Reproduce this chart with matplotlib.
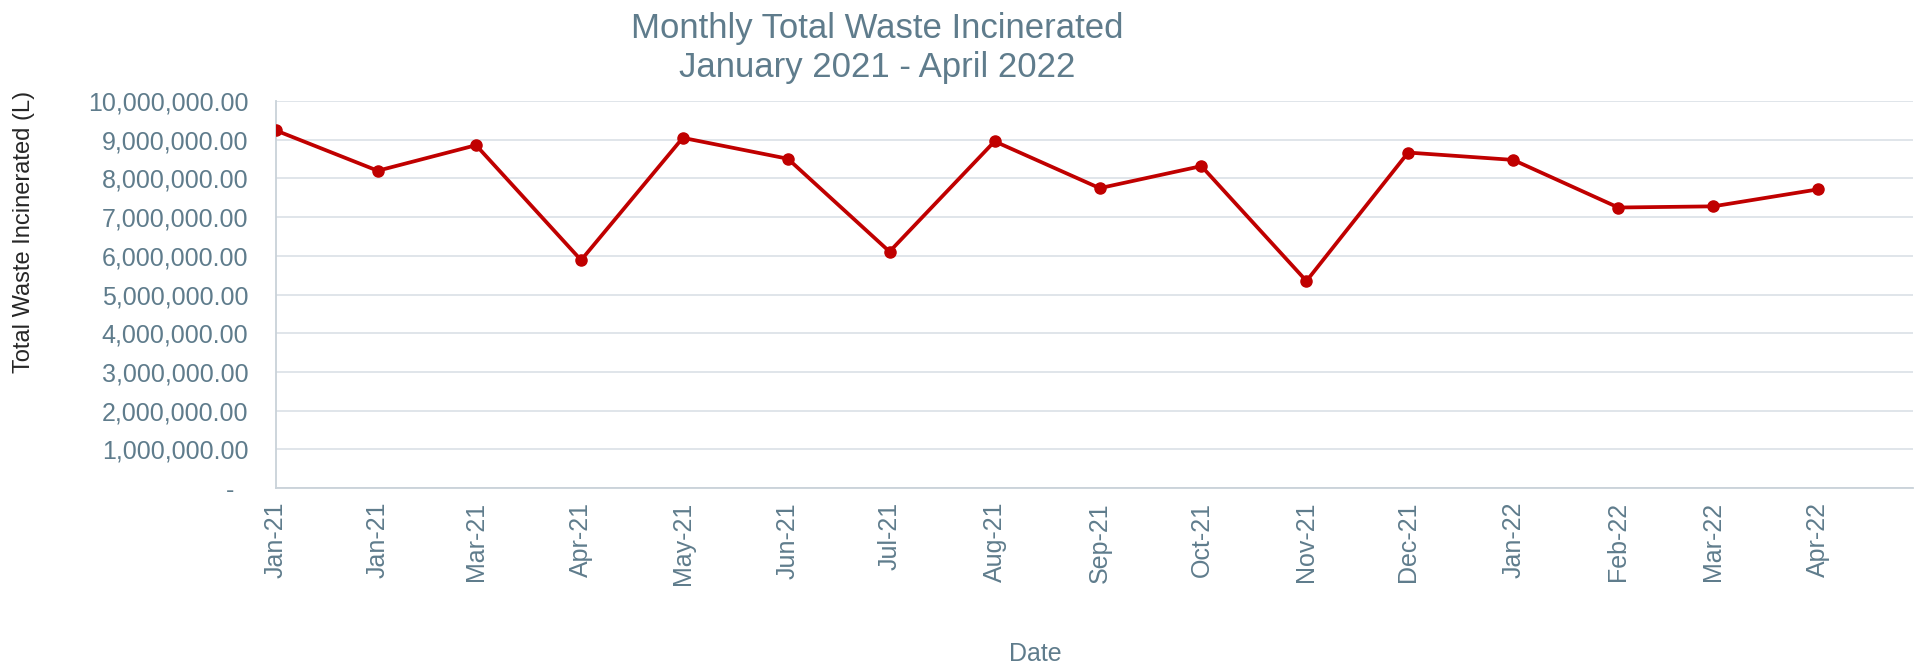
import matplotlib
matplotlib.use("Agg")
import matplotlib.pyplot as plt
import matplotlib.dates as mdates
from matplotlib.ticker import FuncFormatter
import numpy as np

plt.rcParams["font.family"] = ["Liberation Sans", "DejaVu Sans"]

# data
dates = np.array(["2021-01-01", "2021-01-31", "2021-03-01", "2021-04-01",
                  "2021-05-01", "2021-06-01", "2021-07-01", "2021-08-01",
                  "2021-09-01", "2021-10-01", "2021-11-01", "2021-12-01",
                  "2022-01-01", "2022-02-01", "2022-03-01", "2022-04-01"],
                 dtype="datetime64[D]")
waste = [9.24e6, 8.20e6, 8.86e6, 5.89e6, 9.05e6, 8.51e6, 6.11e6, 8.96e6,
         7.75e6, 8.32e6, 5.35e6, 8.67e6, 8.48e6, 7.25e6, 7.28e6, 7.72e6]
y_ticks = np.arange(0, 10_000_001, 1_000_000)

slate = "#5f7c8c"
fig = plt.figure(figsize=(19.17, 6.65), dpi=100)
ax = fig.add_axes([0.144, 0.266, 0.854, 0.582])

ax.plot(dates, waste, color="#c00000", lw=2.7, marker="o", ms=8, zorder=3)

ax.set_ylim(0, 10_000_000)
ax.set_yticks(y_ticks)
ax.yaxis.set_major_formatter(FuncFormatter(lambda v, p: f"{v:,.2f}" if v else "-  "))
ax.set_xlim(np.datetime64("2021-01-01"), np.datetime64("2022-04-29"))
ax.set_xticks(dates)
ax.xaxis.set_major_formatter(mdates.DateFormatter("%b-%y"))
plt.setp(ax.get_xticklabels(), rotation=90)

ax.grid(axis="y", color="#dde3e8", lw=1.3)
ax.set_axisbelow(True)
for s in ["top", "right"]:
    ax.spines[s].set_visible(False)
for s in ["left", "bottom"]:
    ax.spines[s].set_color("#c9d2d9")
    ax.spines[s].set_linewidth(1.3)
ax.tick_params(axis="y", length=0, pad=20, labelsize=18, labelcolor=slate)
ax.tick_params(axis="x", length=0, pad=10, labelsize=18, labelcolor=slate)

fig.text(0.4575, 0.928, "Monthly Total Waste Incinerated\nJanuary 2021 - April 2022",
         ha="center", va="center", fontsize=25, color=slate, linespacing=1.25)
fig.text(0.0125, 0.651, "Total Waste Incinerated (L)", rotation=90,
         ha="center", va="center", fontsize=17, color="#262626")
fig.text(0.54, 0.017, "Date", ha="center", va="center", fontsize=18, color=slate)

fig.savefig("out.png", dpi=100, facecolor="white")
